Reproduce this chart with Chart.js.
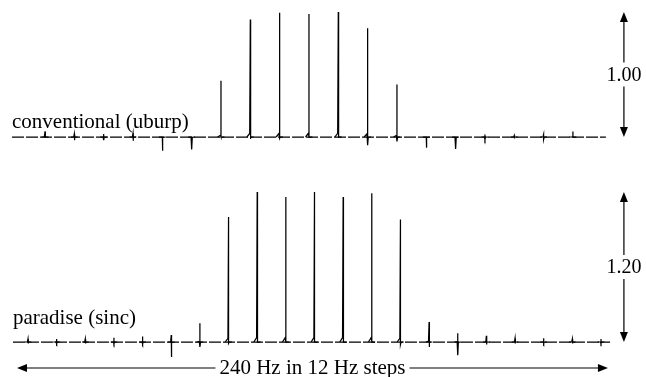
<!DOCTYPE html>
<html>
<head>
<meta charset="utf-8">
<script src="https://cdn.jsdelivr.net/npm/chart.js@4/dist/chart.umd.min.js"></script>
<style>
  html, body { margin: 0; padding: 0; background: #fff; }
  #wrap { width: 646px; height: 377px; }
</style>
</head>
<body>
<div id="wrap"><canvas id="spec" width="646" height="377"></canvas></div>
<script>
// conventional (uburp) - 19 sites, 12 Hz apart
const uburpHz   = [12, 24, 36, 48, 60, 72, 84, 96, 108, 120, 132, 144, 156, 168, 180, 192, 204, 216, 228];
const uburpUp   = [0.045, 0.025, 0.025, 0.03, 0, 0, 0.45, 0.94, 0.995, 0.985, 1.0, 0.87, 0.42, 0, 0, 0.02, 0.012, 0.02, 0.045];
const uburpDown = [0, -0.025, -0.025, -0.03, -0.11, -0.10, 0, -0.015, -0.01, 0, 0, -0.065, -0.035, -0.085, -0.095, -0.02, -0.012, -0.02, 0];
const uburpSpan = [-1.5, 241.5];

// paradise (sinc) - 21 sites, 0..240 Hz
const sincHz   = [0, 12, 24, 36, 48, 60, 72, 84, 96, 108, 120, 132, 144, 156, 168, 180, 192, 204, 216, 228, 240];
const sincUp   = [0.025, 0.025, 0.025, 0.035, 0.045, 0.056, 0.15, 1.0, 1.2, 1.16, 1.2, 1.16, 1.19, 0.98, 0.16, 0.07, 0.05, 0.03, 0.03, 0.024, 0.024];
const sincDown = [-0.012, -0.012, -0.012, -0.015, -0.015, -0.12, -0.04, -0.01, 0, 0, 0, 0, 0, -0.02, -0.04, -0.105, -0.02, -0.012, -0.012, -0.012, -0.012];
const sincSpan = [-6.3, 243.8];

// vertical scale bars
const scaleBars = [1.00, 1.20];
const traceNames = ['conventional (uburp)', 'paradise (sinc)'];
const axisText = '240 Hz in 12 Hz steps';

// each line: narrow spike up to "up" and back through "down"
function peaks(hz, up, down) {
  const pts = [];
  hz.forEach((h, i) => {
    const u = up[i], d = down[i];
    pts.push({x: h - 1.4, y: 0}, {x: h - 0.25, y: 0.03 * u}, {x: h, y: u},
             {x: h, y: d}, {x: h + 0.25, y: 0.03 * d}, {x: h + 1.4, y: 0},
             {x: h + 1.4, y: null});
  });
  return pts;
}
function baseline(span) {
  return [{x: span[0], y: 0}, {x: span[1], y: 0}];
}

const lineStyle = {borderColor: '#000', borderWidth: 1.25, pointRadius: 0, tension: 0, spanGaps: false};

function arrowHead(ctx, x, y, dx, dy) {
  const L = 10, W = 4;
  ctx.beginPath();
  ctx.moveTo(x, y);
  ctx.lineTo(x - dx * L - dy * W, y - dy * L + dx * W);
  ctx.lineTo(x - dx * L + dy * W, y - dy * L - dx * W);
  ctx.closePath();
  ctx.fill();
}

const labels = {
  id: 'labels',
  afterDraw(chart) {
    const ctx = chart.ctx;
    const x = chart.scales.x, yT = chart.scales.yTop, yB = chart.scales.yBot;
    ctx.save();
    ctx.fillStyle = '#000';
    ctx.strokeStyle = '#000';
    ctx.lineWidth = 1.2;
    ctx.font = '21px "Liberation Serif", "Times New Roman", serif';
    ctx.textBaseline = 'alphabetic';
    ctx.textAlign = 'left';
    ctx.fillText(traceNames[0], x.getPixelForValue(-6.7), yT.getPixelForValue(0.072));
    ctx.fillText(traceNames[1], x.getPixelForValue(-6.3), yB.getPixelForValue(0.144));

    // scale bars
    const bx = x.getPixelForValue(249.6);
    [[yT, scaleBars[0]], [yB, scaleBars[1]]].forEach(([ys, v]) => {
      const y0 = ys.getPixelForValue(0), y1 = ys.getPixelForValue(v);
      const mid = (y0 + y1) / 2, gap = 12;
      ctx.beginPath();
      ctx.moveTo(bx, y1 + 6); ctx.lineTo(bx, mid - gap);
      ctx.moveTo(bx, mid + gap); ctx.lineTo(bx, y0 - 6);
      ctx.stroke();
      arrowHead(ctx, bx, y1, 0, -1);
      arrowHead(ctx, bx, y0, 0, 1);
      ctx.font = '20px "Liberation Serif", "Times New Roman", serif';
      ctx.textAlign = 'center';
      ctx.textBaseline = 'middle';
      ctx.fillText(v.toFixed(2), bx, mid + 1);
    });

    // frequency span arrow
    const ay = yB.getPixelForValue(-0.208);
    const ax0 = x.getPixelForValue(-4.6), ax1 = x.getPixelForValue(242.9);
    ctx.font = '21px "Liberation Serif", "Times New Roman", serif';
    ctx.textAlign = 'center';
    ctx.textBaseline = 'alphabetic';
    const tw = ctx.measureText(axisText).width;
    const tc = (ax0 + ax1) / 2;
    ctx.fillText(axisText, tc, ay + 6);
    ctx.beginPath();
    ctx.moveTo(ax0 + 6, ay); ctx.lineTo(tc - tw / 2 - 4, ay);
    ctx.moveTo(tc + tw / 2 + 4, ay); ctx.lineTo(ax1 - 6, ay);
    ctx.stroke();
    arrowHead(ctx, ax0, ay, -1, 0);
    arrowHead(ctx, ax1, ay, 1, 0);
    ctx.restore();
  }
};

new Chart(document.getElementById('spec'), {
  type: 'line',
  data: {
    datasets: [
      Object.assign({data: peaks(uburpHz, uburpUp, uburpDown), xAxisID: 'xTop', yAxisID: 'yTop'}, lineStyle),
      Object.assign({data: baseline(uburpSpan), xAxisID: 'xTop', yAxisID: 'yTop', borderDash: [12, 2]}, lineStyle),
      Object.assign({data: peaks(sincHz, sincUp, sincDown), xAxisID: 'x', yAxisID: 'yBot'}, lineStyle),
      Object.assign({data: baseline(sincSpan), xAxisID: 'x', yAxisID: 'yBot', borderDash: [12, 2]}, lineStyle)
    ]
  },
  options: {
    responsive: false,
    animation: false,
    devicePixelRatio: 1,
    layout: {padding: 0},
    plugins: {legend: {display: false}, tooltip: {enabled: false}},
    scales: {
      x:    {type: 'linear', position: 'bottom', display: false, min: -11.73, max: 258.85},
      xTop: {type: 'linear', position: 'top', display: false, min: -6.42, max: 257.9},
      yTop: {type: 'linear', position: 'left', display: false, min: -1.92, max: 1.096},
      yBot: {type: 'linear', position: 'left', display: false, min: -0.28, max: 2.736}
    }
  },
  plugins: [labels]
});
</script>
</body>
</html>
